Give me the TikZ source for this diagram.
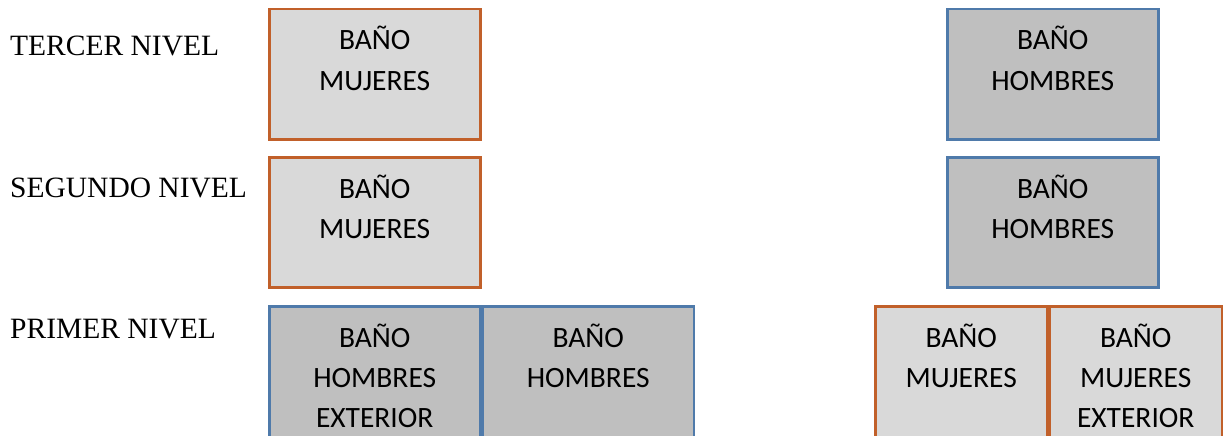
\documentclass[tikz,border=0pt]{standalone}
\usepackage{fontspec}
\setmainfont{Liberation Serif}
\newfontfamily\boxfont{Carlito}
\usetikzlibrary{positioning}
\definecolor{womenline}{RGB}{193,96,42}
\definecolor{menline}{RGB}{79,122,170}
\definecolor{womenfill}{RGB}{217,217,217}
\definecolor{menfill}{RGB}{191,191,191}
\tikzset{
  room/.style={draw, line width=2.5pt, inner sep=0pt, minimum width=211pt, minimum height=130pt, anchor=north west},
  women/.style={room, draw=womenline, fill=womenfill},
  men/.style={room, draw=menline, fill=menfill},
  roomtext/.style={font={\boxfont\fontsize{29.5}{40}\selectfont}, align=center, inner sep=0pt, anchor=base},
  level/.style={font={\fontsize{29.5}{34}\selectfont}, inner sep=0pt, anchor=base west}
}

\begin{document}
\begin{tikzpicture}[x=1pt, y=1pt]
  \path[use as bounding box, clip] (0,0) rectangle (1224,-436);

  % Level labels
  \node[level] (lab3) at (10,-56) {TERCER NIVEL};
  \node[level] (lab2) at (10,-197) {SEGUNDO NIVEL};
  \node[level] (lab1) at (10,-338) {PRIMER NIVEL};

  % Third level
  \node[women] (w3) at (268,-8) {};
  \node[men] (m3) at (946,-8) {};

  % Second level
  \node[women] (w2) at (268,-156) {};
  \node[men] (m2) at (946,-156) {};

  % First level
  \node[men, minimum height=145pt] (m1x) at (268,-305) {};
  \node[men, minimum height=145pt, right=0pt of m1x.north east, anchor=north west] (m1) {};
  \node[women, minimum width=172pt, minimum height=145pt] (w1) at (874,-305) {};
  \node[women, minimum width=172pt, minimum height=145pt, right=0pt of w1.north east, anchor=north west] (w1x) {};

  % Texts (base = last line)
  \node[roomtext] (tw3) at ([yshift=-82pt]w3.north) {BAÑO\\MUJERES};
  \node[roomtext] (tm3) at ([yshift=-82pt]m3.north) {BAÑO\\HOMBRES};
  \node[roomtext] (tw2) at ([yshift=-82pt]w2.north) {BAÑO\\MUJERES};
  \node[roomtext] (tm2) at ([yshift=-82pt]m2.north) {BAÑO\\HOMBRES};
  \node[roomtext] (tm1x) at ([yshift=-122pt]m1x.north) {BAÑO\\HOMBRES\\EXTERIOR};
  \node[roomtext] (tm1) at ([yshift=-82pt]m1.north) {BAÑO\\HOMBRES};
  \node[roomtext] (tw1) at ([yshift=-82pt]w1.north) {BAÑO\\MUJERES};
  \node[roomtext] (tw1x) at ([yshift=-122pt]w1x.north) {BAÑO\\MUJERES\\EXTERIOR};
\end{tikzpicture}
\end{document}
